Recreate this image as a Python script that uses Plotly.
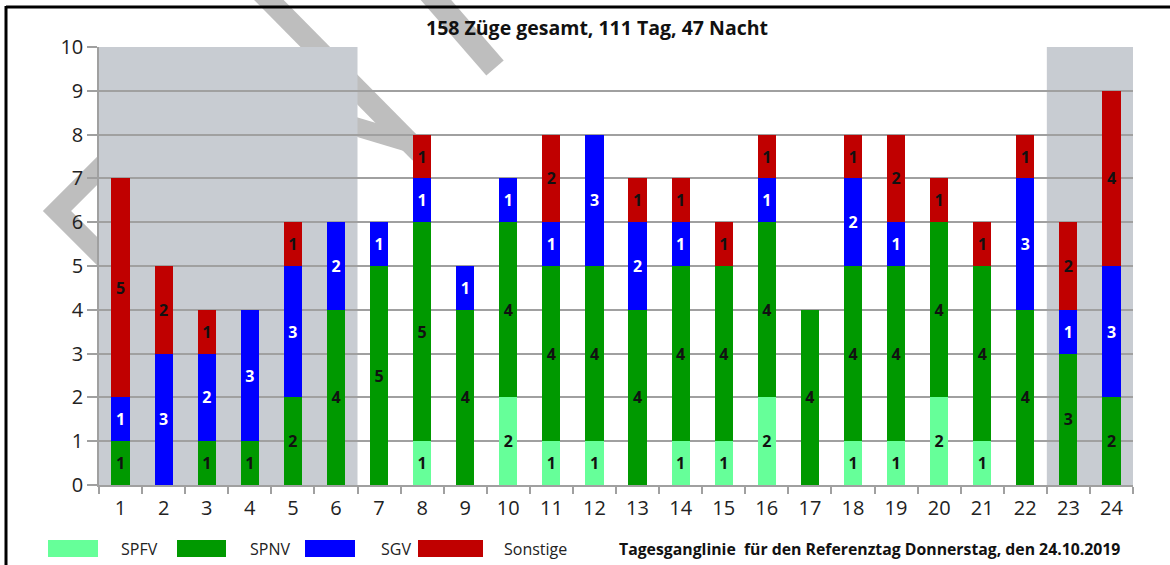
import plotly.graph_objects as go

# ---------------- data ----------------
hours = [str(h) for h in range(1, 25)]
spfv = [0, 0, 0, 0, 0, 0, 0, 1, 0, 2, 1, 1, 0, 1, 1, 2, 0, 1, 1, 2, 1, 0, 0, 0]
spnv = [1, 0, 1, 1, 2, 4, 5, 5, 4, 4, 4, 4, 4, 4, 4, 4, 4, 4, 4, 4, 4, 4, 3, 2]
sgv = [1, 3, 2, 3, 3, 2, 1, 1, 1, 1, 1, 3, 2, 1, 0, 1, 0, 2, 1, 0, 0, 3, 1, 3]
sonstige = [5, 2, 1, 0, 1, 0, 0, 1, 0, 0, 2, 0, 1, 1, 1, 1, 0, 1, 2, 1, 1, 1, 2, 4]
series_names = ["SPFV", "SPNV", "SGV", "Sonstige"]
night_spans = [("1", "6"), ("23", "24")]
y_ticks = list(range(0, 11))
title_text = "158 Züge gesamt, 111 Tag, 47 Nacht"
footer_text = "Tagesganglinie  für den Referenztag Donnerstag, den 24.10.2019"

colors = {"SPFV": "#66FF99", "SPNV": "#009900", "SGV": "#0000FF", "Sonstige": "#C00000"}
text_colors = {"SPFV": "#111111", "SPNV": "#111111", "SGV": "#FFFFFF", "Sonstige": "#111111"}
values = {"SPFV": spfv, "SPNV": spnv, "SGV": sgv, "Sonstige": sonstige}

W, H = 1170, 565
ML, MR, MT, MB = 99, 37, 47, 80
L, R, T, B = ML, W - MR, MT, H - MB


def px(x):
    return (x - L) / (R - L)


def py(y):
    return (B - y) / (B - T)


FONT = "Open Sans, DejaVu Sans, sans-serif"

fig = go.Figure()
for name in series_names:
    vals = values[name]
    fig.add_trace(go.Bar(
        x=hours, y=vals, name=name,
        marker=dict(color=colors[name], line=dict(width=0)),
        text=[str(v) if v > 0 else "" for v in vals],
        textposition="inside", insidetextanchor="middle", textangle=0, constraintext="none",
        textfont=dict(family=FONT, size=16, color=text_colors[name], weight="bold"),
        showlegend=False, cliponaxis=False,
    ))

shapes = []
wm = "#BEBEBE"
# watermark strokes (decorative)
shapes.append(dict(type="line", xref="paper", yref="paper", x0=px(261), y0=py(-8), x1=px(420), y1=py(153),
                   line=dict(color=wm, width=21), layer="below"))
shapes.append(dict(type="line", xref="paper", yref="paper", x0=px(320), y0=py(116), x1=px(420), y1=py(146),
                   line=dict(color=wm, width=19), layer="below"))
shapes.append(dict(type="line", xref="paper", yref="paper", x0=px(429), y0=py(-8), x1=px(495), y1=py(68),
                   line=dict(color=wm, width=23), layer="below"))
shapes.append(dict(type="path", xref="paper", yref="paper",
                   path=f"M {px(125)},{py(143)} L {px(57)},{py(211)} L {px(125)},{py(279)}",
                   line=dict(color=wm, width=20), layer="below"))
# night shading
for a, b in night_spans:
    shapes.append(dict(type="rect", xref="x", yref="y", x0=hours.index(a) - 0.5, x1=hours.index(b) + 0.5,
                       y0=0, y1=10, fillcolor="#C8CCD2", line=dict(width=0), layer="below"))
# frame
shapes.append(dict(type="line", xref="paper", yref="paper", x0=px(6), x1=px(W + 5), y0=py(7), y1=py(7),
                   line=dict(color="black", width=3)))
shapes.append(dict(type="line", xref="paper", yref="paper", x0=px(6), x1=px(6), y0=py(6), y1=py(H + 5),
                   line=dict(color="black", width=3)))

annotations = []
# legend
leg_rects = [(48, 98), (177, 226), (305, 355), (418, 483)]
leg_text_x = [139, 270, 396, 535]
for name, (x0, x1), tx in zip(series_names, leg_rects, leg_text_x):
    shapes.append(dict(type="rect", xref="paper", yref="paper", x0=px(x0), x1=px(x1), y0=py(557), y1=py(540),
                       fillcolor=colors[name], line=dict(width=0)))
    annotations.append(dict(text=name, xref="paper", yref="paper", x=px(tx), y=py(549), showarrow=False,
                            xanchor="center", yanchor="middle", font=dict(family=FONT, size=16, color="#222")))
annotations.append(dict(text=f"<b>{footer_text}</b>", xref="paper", yref="paper", x=px(869), y=py(549),
                        showarrow=False, xanchor="center", yanchor="middle",
                        font=dict(family=FONT, size=15.8, color="#111")))
annotations.append(dict(text=f"<b>{title_text}</b>", xref="paper", yref="paper", x=px(597), y=py(28),
                        showarrow=False, xanchor="center", yanchor="middle",
                        font=dict(family=FONT, size=19.5, color="#111")))

fig.update_layout(
    width=W, height=H, margin=dict(l=ML, r=MR, t=MT, b=MB),
    paper_bgcolor="white", plot_bgcolor="white",
    barmode="stack", bargap=0.58,
    shapes=shapes, annotations=annotations,
    font=dict(family=FONT, color="#222"),
)
fig.update_xaxes(type="category", range=[-0.5, 23.5], tickson="boundaries", ticks="outside", ticklen=7,
                 tickcolor="#A0A0A0", tickwidth=1.5, showline=True, linecolor="#A0A0A0", linewidth=1.5,
                 showgrid=False, ticklabelstandoff=4, tickfont=dict(family=FONT, size=20, color="#222"))
fig.update_yaxes(range=[0, 10], tickvals=y_ticks, ticks="outside", ticklen=10, tickcolor="#A0A0A0", tickwidth=1.5,
                 showgrid=True, gridcolor="#A0A0A0", gridwidth=1.5, showline=True, linecolor="#A0A0A0",
                 linewidth=1.5, zeroline=False, tickfont=dict(family=FONT, size=20, color="#222"))

fig.write_html("out.html", config={"displayModeBar": False},
               post_script="document.body.style.margin='0';document.body.style.overflow='hidden';")
